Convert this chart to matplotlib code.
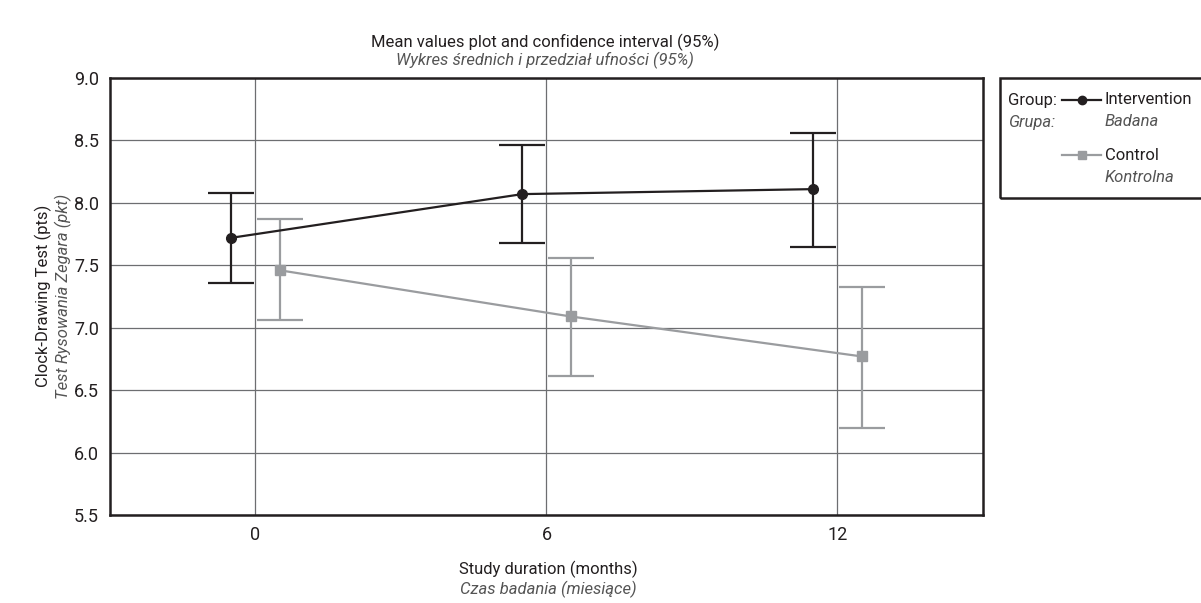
import matplotlib
matplotlib.use("Agg")
import matplotlib.pyplot as plt
from matplotlib.lines import Line2D
from matplotlib.patches import Rectangle

plt.rcParams['font.family'] = ['Roboto', 'DejaVu Sans']

# data
months = [0, 6, 12]
interv_mean = [7.72, 8.07, 8.11]
interv_low = [7.36, 7.68, 7.65]
interv_high = [8.08, 8.46, 8.56]
control_mean = [7.46, 7.09, 6.77]
control_low = [7.06, 6.61, 6.20]
control_high = [7.87, 7.56, 7.33]
yticks = [5.5, 6.0, 6.5, 7.0, 7.5, 8.0, 8.5, 9.0]

DARK = '#231f20'
GREY = '#9a9c9f'
ITAL = '#555555'
FS = 12

fig = plt.figure(figsize=(12.01, 6.03), dpi=100)
ax = fig.add_axes([110 / 1201, 1 - 515 / 603, (983 - 110) / 1201, (515 - 78) / 603])

ax.set_xlim(-3, 15)
ax.set_ylim(5.5, 9.0)
ax.set_xticks(months)
ax.set_yticks(yticks)
ax.set_yticklabels([f"{v:.1f}" for v in yticks])
ax.tick_params(length=0, labelsize=13, colors=DARK, pad=8)
ax.grid(True, color='#6d6e71', lw=0.9)
ax.set_axisbelow(True)
for s in ax.spines.values():
    s.set_linewidth(1.8)
    s.set_color(DARK)

off = 0.5
xi = [m - off for m in months]
xc = [m + off for m in months]

ax.errorbar(xi, interv_mean,
            yerr=[[m - l for m, l in zip(interv_mean, interv_low)],
                  [h - m for m, h in zip(interv_mean, interv_high)]],
            color=DARK, lw=1.6, elinewidth=1.6, capsize=16.5, capthick=1.6,
            marker='o', ms=7, zorder=4)
ax.errorbar(xc, control_mean,
            yerr=[[m - l for m, l in zip(control_mean, control_low)],
                  [h - m for m, h in zip(control_mean, control_high)]],
            color=GREY, lw=1.6, elinewidth=1.6, capsize=16.5, capthick=1.6,
            marker='s', ms=7, zorder=3)

# titles and axis labels
fig.text(545 / 1201, 1 - 42 / 603, "Mean values plot and confidence interval (95%)",
         ha='center', va='center', fontsize=FS, color=DARK)
fig.text(545 / 1201, 1 - 60 / 603, "Wykres średnich i przedział ufności (95%)",
         ha='center', va='center', fontsize=FS, color=ITAL, style='italic')
fig.text(548 / 1201, 1 - 569 / 603, "Study duration (months)",
         ha='center', va='center', fontsize=FS, color=DARK)
fig.text(548 / 1201, 1 - 589 / 603, "Czas badania (miesiące)",
         ha='center', va='center', fontsize=FS, color=ITAL, style='italic')
fig.text(43 / 1201, 1 - 296 / 603, "Clock-Drawing Test (pts)",
         ha='center', va='center', fontsize=FS, color=DARK, rotation=90)
fig.text(63 / 1201, 1 - 296 / 603, "Test Rysowania Zegara (pkt)",
         ha='center', va='center', fontsize=FS, color=ITAL, style='italic', rotation=90)

# legend box
W, H = 1201, 603
fig.patches.append(Rectangle((1000 / W, 1 - 198 / H), 220 / W, 120 / H,
                             transform=fig.transFigure, fill=False,
                             lw=1.8, edgecolor=DARK))
fig.text(1008 / W, 1 - 100 / H, "Group:", va='center', fontsize=FS, color=DARK)
fig.text(1008 / W, 1 - 122 / H, "Grupa:", va='center', fontsize=FS, color=ITAL, style='italic')
fig.lines.append(Line2D([1062 / W, 1101 / W], [1 - 100 / H] * 2, transform=fig.transFigure,
                        color=DARK, lw=1.6))
fig.lines.append(Line2D([1082 / W], [1 - 100 / H], transform=fig.transFigure,
                        color=DARK, marker='o', ms=6))
fig.text(1105 / W, 1 - 100 / H, "Intervention", va='center', fontsize=FS, color=DARK)
fig.text(1105 / W, 1 - 122 / H, "Badana", va='center', fontsize=FS, color=ITAL, style='italic')
fig.lines.append(Line2D([1062 / W, 1101 / W], [1 - 155 / H] * 2, transform=fig.transFigure,
                        color=GREY, lw=1.6))
fig.lines.append(Line2D([1082 / W], [1 - 155 / H], transform=fig.transFigure,
                        color=GREY, marker='s', ms=6))
fig.text(1105 / W, 1 - 155 / H, "Control", va='center', fontsize=FS, color=DARK)
fig.text(1105 / W, 1 - 178 / H, "Kontrolna", va='center', fontsize=FS, color=ITAL, style='italic')

fig.savefig("out.png", dpi=100)
